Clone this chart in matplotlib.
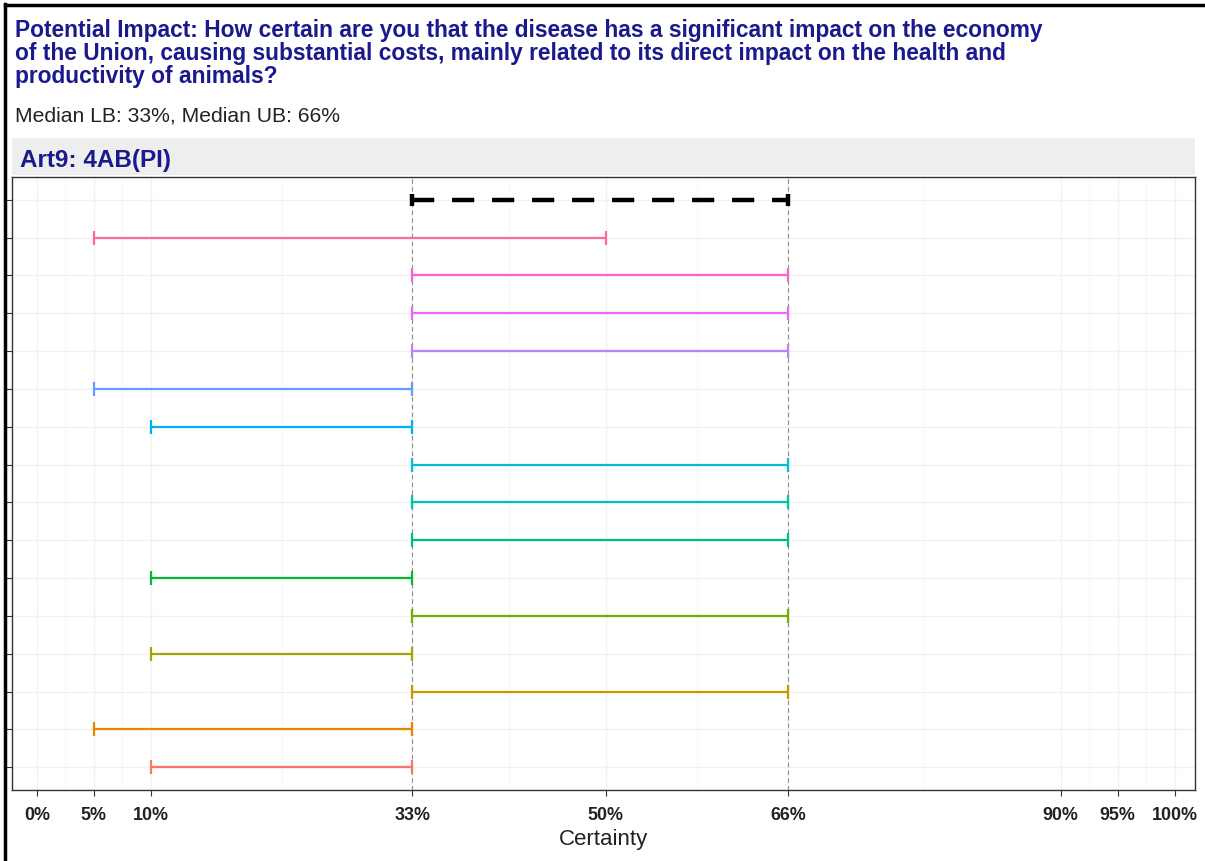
import matplotlib
matplotlib.use("Agg")
import matplotlib.pyplot as plt
from matplotlib.patches import Rectangle
from matplotlib.lines import Line2D
import numpy as np

plt.rcParams['font.family'] = ['Liberation Sans', 'DejaVu Sans']

# ---- data ----
title_lines = [
    "Potential Impact: How certain are you that the disease has a significant impact on the economy",
    "of the Union, causing substantial costs, mainly related to its direct impact on the health and",
    "productivity of animals?",
]
subtitle = "Median LB: 33%, Median UB: 66%"
strip_label = "Art9: 4AB(PI)"
x_label = "Certainty"
x_ticks = [0, 5, 10, 33, 50, 66, 90, 95, 100]
x_tick_labels = ["0%", "5%", "10%", "33%", "50%", "66%", "90%", "95%", "100%"]

# experts listed bottom to top
expert_lower = [10, 5, 33, 10, 33, 10, 33, 33, 33, 10, 5, 33, 33, 33, 5]
expert_upper = [33, 33, 66, 33, 66, 33, 66, 66, 66, 33, 33, 66, 66, 66, 50]
expert_colors = ["#F8766D", "#E58700", "#C99800", "#A3A500", "#6BB100",
                 "#00BA38", "#00BF7D", "#00C0AF", "#00BCD8", "#00B0F6",
                 "#619CFF", "#B983FF", "#E76BF3", "#FD61D1", "#FF67A4"]
median_lower = 33
median_upper = 66

W, H = 1205, 861
fig = plt.figure(figsize=(W / 100, H / 100), dpi=100)

def fx(px):
    return px / W

def fy(py):
    return 1 - py / H

title_color = "#1A1A8C"

# title lines
for txt, base in zip(title_lines, [37, 60, 83]):
    fig.text(fx(15), fy(base), txt, fontsize=16.4, fontweight='bold',
             color=title_color, va='baseline', ha='left')
fig.text(fx(15), fy(122), subtitle, fontsize=15.2, color='#222222',
         va='baseline', ha='left')

# strip
fig.patches.append(Rectangle((fx(12), fy(175)), fx(1195) - fx(12), fy(138) - fy(175),
                             transform=fig.transFigure, facecolor='#EEEEEE',
                             edgecolor='none', zorder=0))
fig.text(fx(20), fy(167), strip_label, fontsize=17.5, fontweight='bold',
         color=title_color, va='baseline', ha='left')

# axes
ax = fig.add_axes([fx(12), fy(790), fx(1195) - fx(12), fy(177) - fy(790)])
n = len(expert_lower)
pos = np.arange(1, n + 1)
ax.set_xlim(-2.2, 101.8)
ax.set_ylim(0.4, n + 1 + 0.6)

# grid
minor = [(a + b) / 2 for a, b in zip(x_ticks[:-1], x_ticks[1:])]
for m in minor:
    ax.axvline(m, color='#F8F8F8', lw=0.8, zorder=0)
for t in x_ticks:
    ax.axvline(t, color='#F1F1F1', lw=1.0, zorder=0)
for p in list(pos) + [n + 1]:
    ax.axhline(p, color='#F1F1F1', lw=1.0, zorder=0)

# reference dashed lines at median bounds
for v in (median_lower, median_upper):
    ax.axvline(v, color='#8C8C8C', lw=0.8, ls=(0, (4, 3)), zorder=1)

# expert intervals
lo = np.array(expert_lower, dtype=float)
hi = np.array(expert_upper, dtype=float)
for i in range(n):
    ax.errorbar((lo[i] + hi[i]) / 2, pos[i], xerr=(hi[i] - lo[i]) / 2, fmt='none',
                ecolor=expert_colors[i], elinewidth=1.6, capsize=5, capthick=1.6,
                zorder=3)

# median interval
eb = ax.errorbar((median_lower + median_upper) / 2, n + 1,
                 xerr=(median_upper - median_lower) / 2, fmt='none',
                 ecolor='black', elinewidth=3.2, capsize=4, capthick=3.2, zorder=4)
eb[2][0].set_linestyle((0, (5, 4)))

ax.set_xticks(x_ticks)
ax.set_xticklabels(x_tick_labels, fontsize=12.9, fontweight='bold', color='#222222')
ax.set_yticks(list(pos) + [n + 1])
ax.set_yticklabels([])
ax.tick_params(axis='both', length=4, width=0.8, color='#333333')
ax.tick_params(axis='x', pad=8)
ax.set_xlabel(x_label, fontsize=16, color='#222222', labelpad=4)
for s in ax.spines.values():
    s.set_color('#333333')
    s.set_linewidth(1.0)

# outer border (top and left)
fig.lines.append(Line2D([fx(5), fx(5)], [0, fy(4)], transform=fig.transFigure,
                        color='black', lw=2.5))
fig.lines.append(Line2D([fx(5), 1], [fy(5), fy(5)], transform=fig.transFigure,
                        color='black', lw=2.5))

fig.savefig("out.png", dpi=100)
